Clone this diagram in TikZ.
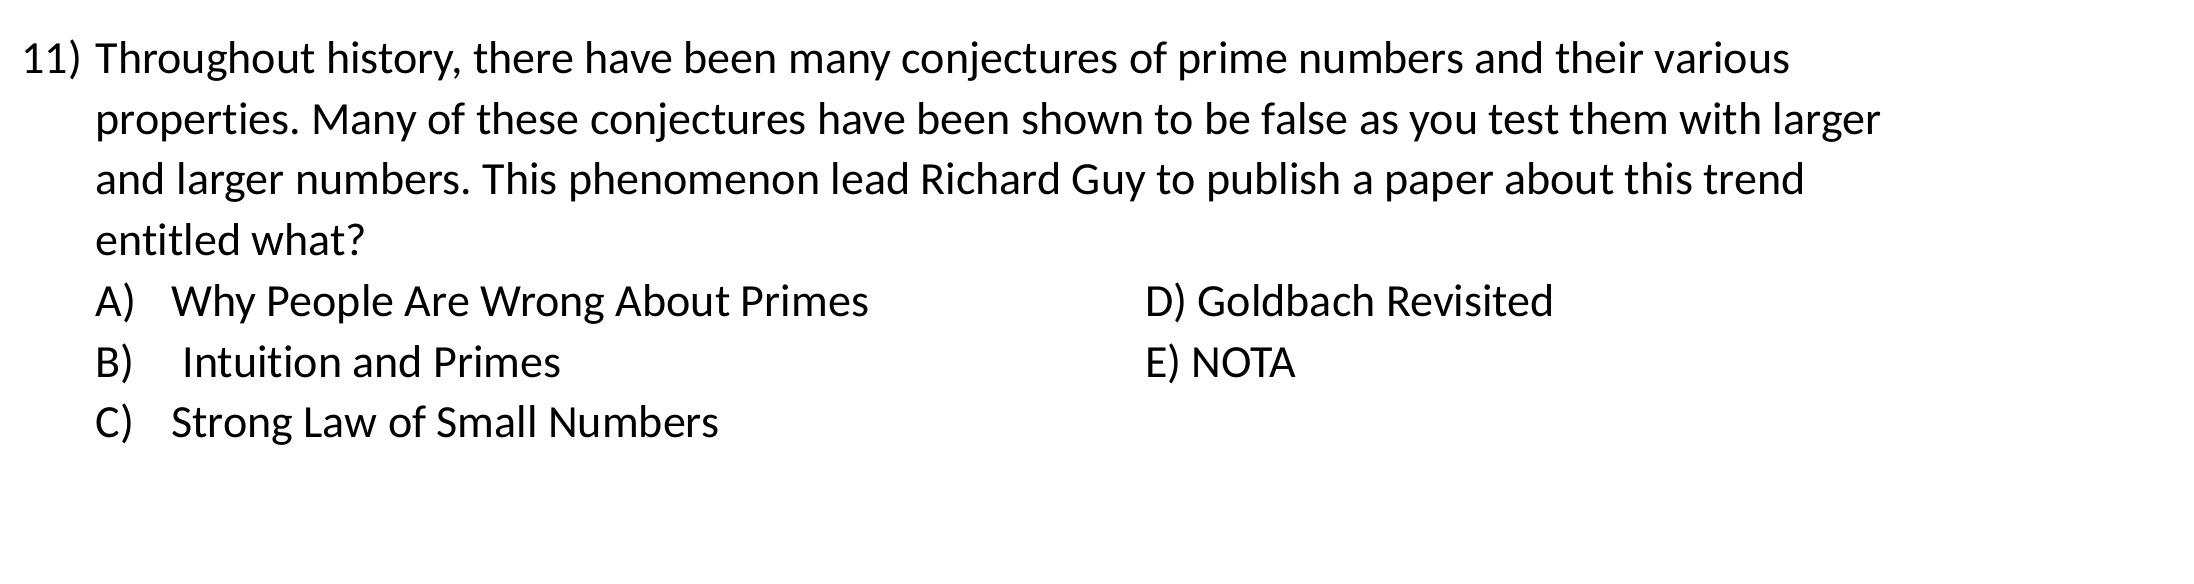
\documentclass[tikz,border=0pt]{standalone}
\usepackage{fontspec}
\setmainfont{Carlito}[Ligatures=NoCommon]
\begin{document}
\frenchspacing
\begin{tikzpicture}[x=0.5pt,y=-0.5pt,
  txt/.style={anchor=base west,inner sep=0pt,font=\fontsize{16.45pt}{19pt}\selectfont}]
\useasboundingbox[fill=white] (0,0) rectangle (1568,417);
\node[txt] (num) at (15,52.5) {11)};
\node[txt] (l1) at (68,52.5) {Throughout history, there have been many conjectures of prime numbers and their various};
\node[txt] (l2) at (68,95.9) {properties. Many of these conjectures have been shown to be false as you test them with larger};
\node[txt] (l3) at (68,139.3) {and larger numbers. This phenomenon lead Richard Guy to publish a paper about this trend};
\node[txt] (l4) at (68,182.7) {entitled what?};
\node[txt] (al) at (68,226.1) {A)};
\node[txt] (at) at (122,226.1) {Why People Are Wrong About Primes};
\node[txt] (bl) at (68,269.5) {B)};
\node[txt] (bt) at (130,269.5) {Intuition and Primes};
\node[txt] (cl) at (68,312.9) {C)};
\node[txt] (ct) at (122,312.9) {Strong Law of Small Numbers};
\node[txt] (d) at (818,226.1) {D) Goldbach Revisited};
\node[txt] (e) at (818,269.5) {E) NOTA};
\end{tikzpicture}
\end{document}
